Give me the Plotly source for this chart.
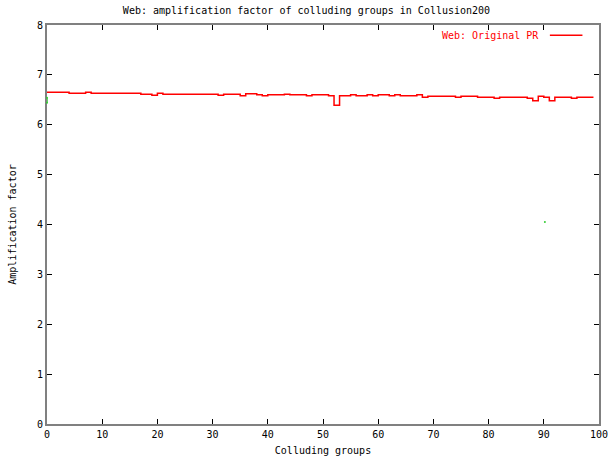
import plotly.graph_objects as go

# Step series: amplification factor per colluding group (x = 0..98, ends at 99)
groups = list(range(0, 100))
amp = (
    [6.65] * 4 +          # 0-3
    [6.63] * 3 +          # 4-6
    [6.65] +              # 7
    [6.63] * 9 +          # 8-16
    [6.61] * 2 +          # 17-18
    [6.59] +              # 19
    [6.63] +              # 20
    [6.61] * 10 +         # 21-30
    [6.59] +              # 31
    [6.61] * 3 +          # 32-34
    [6.58] +              # 35
    [6.62] * 2 +          # 36-37
    [6.60] +              # 38
    [6.58] +              # 39
    [6.60] * 3 +          # 40-42
    [6.61] +              # 43
    [6.60] * 3 +          # 44-46
    [6.58] +              # 47
    [6.60] * 3 +          # 48-50
    [6.58] +              # 51
    [6.39] +              # 52
    [6.58] * 2 +          # 53-54
    [6.60] +              # 55
    [6.58] * 2 +          # 56-57
    [6.60] +              # 58
    [6.58] +              # 59
    [6.60] * 2 +          # 60-61
    [6.58] +              # 62
    [6.60] +              # 63
    [6.58] * 3 +          # 64-66
    [6.60] +              # 67
    [6.55] +              # 68
    [6.57] * 5 +          # 69-73
    [6.55] +              # 74
    [6.57] * 3 +          # 75-77
    [6.55] * 3 +          # 78-80
    [6.53] +              # 81
    [6.55] * 5 +          # 82-86
    [6.53] +              # 87
    [6.48] +              # 88
    [6.57] +              # 89
    [6.55] +              # 90
    [6.48] +              # 91
    [6.55] * 3 +          # 92-94
    [6.53] +              # 95
    [6.55] * 3 +          # 96-98
    [6.55]                # 99 (end of last step)
)

# Stray green marks visible in the original
stray_x = [0, 0, None, 90.2]
stray_y = [6.44, 6.54, None, 4.05]

x_ticks = list(range(0, 101, 10))
y_ticks = list(range(0, 9, 1))

title_text = "Web: amplification factor of colluding groups in Collusion200"
x_title = "Colluding groups"
y_title = "Amplification factor"
legend_label = "Web: Original PR"

FONT = "DejaVu Sans Mono"
RED = "#ff0000"

fig = go.Figure()
fig.add_trace(go.Scatter(
    x=groups, y=amp, mode="lines", line_shape="hv",
    line=dict(color=RED, width=1.5), name=legend_label, showlegend=False,
))
fig.add_trace(go.Scatter(
    x=stray_x, y=stray_y, mode="lines+markers",
    line=dict(color="#66dd66", width=2), marker=dict(color="#33cc33", size=2),
    showlegend=False, connectgaps=False, cliponaxis=False,
))

axis_common = dict(
    showgrid=False, zeroline=False, showline=True, linecolor="#808080", linewidth=2,
    ticks="inside", ticklen=5, tickcolor="#000000", tickwidth=1, mirror="ticks",
    tickfont=dict(family=FONT, size=10, color="#000000"),
    automargin=False, layer="below traces",
)

fig.update_layout(
    width=613, height=461,
    margin=dict(l=47, r=14, t=25, b=37),
    paper_bgcolor="white", plot_bgcolor="white",
    font=dict(family=FONT, size=10, color="#000000"),
    title=dict(text=title_text, x=0.5, xanchor="center", y=0.985, yanchor="top",
               font=dict(family=FONT, size=10, color="#000000")),
    xaxis=dict(range=[0, 100], tickvals=x_ticks, ticktext=[str(v) for v in x_ticks],
               title=dict(text=x_title, standoff=8, font=dict(family=FONT, size=10)),
               **axis_common),
    yaxis=dict(range=[0, 8], tickvals=y_ticks, ticktext=[str(v) for v in y_ticks],
               title=dict(text=y_title, standoff=18, font=dict(family=FONT, size=10)),
               **axis_common),
    showlegend=False,
)

# Legend drawn gnuplot-style: text followed by a line sample
fig.add_annotation(xref="paper", yref="paper", x=0.895, y=0.974, xanchor="right", yanchor="middle",
                   text=legend_label, showarrow=False, font=dict(family=FONT, size=10, color=RED))
fig.add_shape(type="line", xref="paper", yref="paper", x0=0.911, x1=0.97, y0=0.974, y1=0.974,
              line=dict(color=RED, width=1.5))

fig.write_html("out.html", config={"displayModeBar": False},
               post_script="document.body.style.margin='0';")
